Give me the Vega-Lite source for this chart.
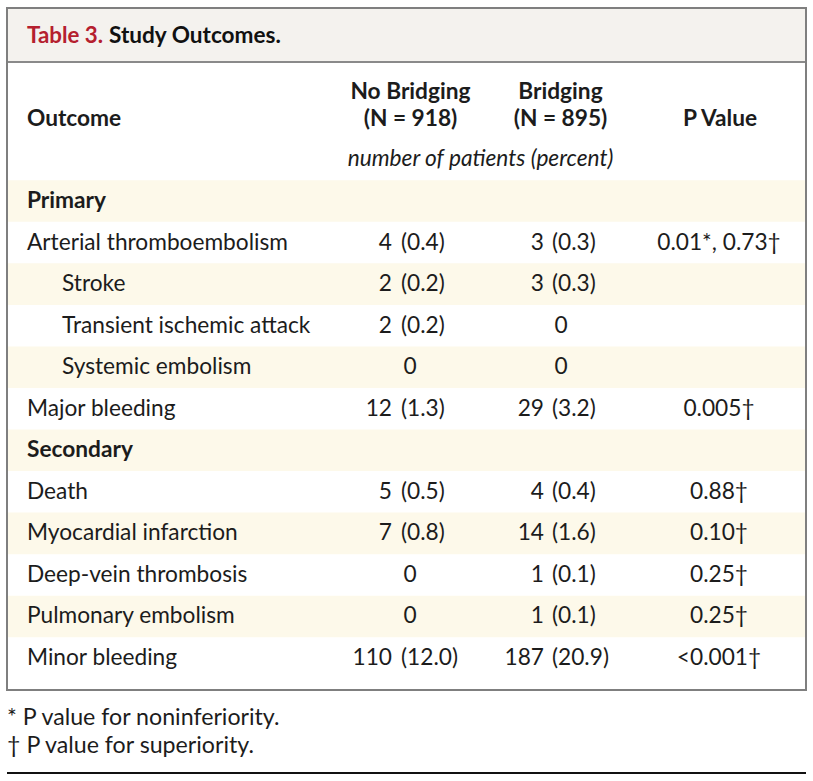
{
  "$schema": "https://vega.github.io/schema/vega-lite/v6.json",
  "width": 813,
  "height": 781,
  "autosize": {"type": "none"},
  "padding": 0,
  "background": "white",
  "config": {
    "view": {"stroke": null},
    "font": "Lato",
    "text": {"font": "Lato", "fontSize": 22.7, "color": "#1c1c1c", "baseline": "middle"}
  },
  "datasets": {
    "rows": [
      {"row": 0, "outcome": "Primary", "level": "section", "nb_n": "", "nb_pct": "", "b_n": "", "b_pct": "", "p": ""},
      {"row": 1, "outcome": "Arterial thromboembolism", "level": "item", "nb_n": "4", "nb_pct": "(0.4)", "b_n": "3", "b_pct": "(0.3)", "p": "0.01*, 0.73†"},
      {"row": 2, "outcome": "Stroke", "level": "sub", "nb_n": "2", "nb_pct": "(0.2)", "b_n": "3", "b_pct": "(0.3)", "p": ""},
      {"row": 3, "outcome": "Transient ischemic attack", "level": "sub", "nb_n": "2", "nb_pct": "(0.2)", "b_n": "0", "b_pct": "", "p": ""},
      {"row": 4, "outcome": "Systemic embolism", "level": "sub", "nb_n": "0", "nb_pct": "", "b_n": "0", "b_pct": "", "p": ""},
      {"row": 5, "outcome": "Major bleeding", "level": "item", "nb_n": "12", "nb_pct": "(1.3)", "b_n": "29", "b_pct": "(3.2)", "p": "0.005†"},
      {"row": 6, "outcome": "Secondary", "level": "section", "nb_n": "", "nb_pct": "", "b_n": "", "b_pct": "", "p": ""},
      {"row": 7, "outcome": "Death", "level": "item", "nb_n": "5", "nb_pct": "(0.5)", "b_n": "4", "b_pct": "(0.4)", "p": "0.88†"},
      {"row": 8, "outcome": "Myocardial infarction", "level": "item", "nb_n": "7", "nb_pct": "(0.8)", "b_n": "14", "b_pct": "(1.6)", "p": "0.10†"},
      {"row": 9, "outcome": "Deep-vein thrombosis", "level": "item", "nb_n": "0", "nb_pct": "", "b_n": "1", "b_pct": "(0.1)", "p": "0.25†"},
      {"row": 10, "outcome": "Pulmonary embolism", "level": "item", "nb_n": "0", "nb_pct": "", "b_n": "1", "b_pct": "(0.1)", "p": "0.25†"},
      {"row": 11, "outcome": "Minor bleeding", "level": "item", "nb_n": "110", "nb_pct": "(12.0)", "b_n": "187", "b_pct": "(20.9)", "p": "<0.001†"}
    ],
    "one": [{"k": 1}]
  },
  "layer": [
    {
      "data": {"name": "one"},
      "mark": {"type": "rect", "fill": "#f4f2ee"},
      "encoding": {
        "x": {"datum": 0, "type": "quantitative", "scale": {"domain": [0, 1], "range": [7, 806], "nice": false, "zero": false}, "axis": null},
        "x2": {"datum": 1},
        "y": {"datum": -4.646, "type": "quantitative", "scale": {"domain": [0, 11], "range": [201, 658], "nice": false, "zero": false}, "axis": null},
        "y2": {"datum": -3.346}
      }
    },
    {
      "data": {"name": "rows"},
      "transform": [{"filter": "datum.row % 2 == 0"}],
      "mark": {"type": "rule", "stroke": "#fdf9ea", "strokeWidth": 41.6, "strokeCap": "butt"},
      "encoding": {
        "x": {"datum": 0, "type": "quantitative", "scale": {"domain": [0, 1], "range": [7, 806], "nice": false, "zero": false}, "axis": null},
        "x2": {"datum": 1},
        "y": {"field": "row", "type": "quantitative", "scale": {"domain": [0, 11], "range": [201, 658], "nice": false, "zero": false}, "axis": null}
      }
    },
    {
      "data": {"name": "one"},
      "mark": {"type": "rule", "stroke": "#8a8a8a", "strokeWidth": 2},
      "encoding": {
        "x": {"datum": 0, "type": "quantitative", "scale": {"domain": [0, 1], "range": [7, 806], "nice": false, "zero": false}, "axis": null},
        "x2": {"datum": 1},
        "y": {"datum": -3.346, "type": "quantitative", "scale": {"domain": [0, 11], "range": [201, 658], "nice": false, "zero": false}, "axis": null}
      }
    },
    {
      "data": {"name": "one"},
      "mark": {"type": "rect", "fill": "transparent", "stroke": "#7f7f7f", "strokeWidth": 2},
      "encoding": {
        "x": {"datum": 0, "type": "quantitative", "scale": {"domain": [0, 1], "range": [7, 806], "nice": false, "zero": false}, "axis": null},
        "x2": {"datum": 1},
        "y": {"datum": -4.646, "type": "quantitative", "scale": {"domain": [0, 11], "range": [201, 658], "nice": false, "zero": false}, "axis": null},
        "y2": {"datum": 11.77}
      }
    },
    {
      "data": {"name": "one"},
      "mark": {"type": "text", "align": "left", "fontWeight": "bold", "color": "#b5202e", "fontSize": 22.3},
      "encoding": {
        "x": {"datum": 0.02503, "type": "quantitative", "scale": {"domain": [0, 1], "range": [7, 806], "nice": false, "zero": false}, "axis": null},
        "y": {"datum": -3.964, "type": "quantitative", "scale": {"domain": [0, 11], "range": [201, 658], "nice": false, "zero": false}, "axis": null},
        "text": {"value": "Table 3."}
      }
    },
    {
      "data": {"name": "one"},
      "mark": {"type": "text", "align": "left", "fontWeight": "bold", "color": "#111111", "fontSize": 22.6},
      "encoding": {
        "x": {"datum": 0.12766, "type": "quantitative", "scale": {"domain": [0, 1], "range": [7, 806], "nice": false, "zero": false}, "axis": null},
        "y": {"datum": -3.964, "type": "quantitative", "scale": {"domain": [0, 11], "range": [201, 658], "nice": false, "zero": false}, "axis": null},
        "text": {"value": "Study Outcomes."}
      }
    },
    {
      "data": {"name": "one"},
      "mark": {"type": "text", "align": "left", "fontWeight": "bold"},
      "encoding": {
        "x": {"datum": 0.02503, "type": "quantitative", "scale": {"domain": [0, 1], "range": [7, 806], "nice": false, "zero": false}, "axis": null},
        "y": {"datum": -1.974, "type": "quantitative", "scale": {"domain": [0, 11], "range": [201, 658], "nice": false, "zero": false}, "axis": null},
        "text": {"value": "Outcome"}
      }
    },
    {
      "data": {"name": "one"},
      "mark": {"type": "text", "align": "center", "fontWeight": "bold"},
      "encoding": {
        "x": {"datum": 0.505, "type": "quantitative", "scale": {"domain": [0, 1], "range": [7, 806], "nice": false, "zero": false}, "axis": null},
        "y": {"datum": -2.633, "type": "quantitative", "scale": {"domain": [0, 11], "range": [201, 658], "nice": false, "zero": false}, "axis": null},
        "text": {"value": "No Bridging"}
      }
    },
    {
      "data": {"name": "one"},
      "mark": {"type": "text", "align": "center", "fontWeight": "bold"},
      "encoding": {
        "x": {"datum": 0.505, "type": "quantitative", "scale": {"domain": [0, 1], "range": [7, 806], "nice": false, "zero": false}, "axis": null},
        "y": {"datum": -1.974, "type": "quantitative", "scale": {"domain": [0, 11], "range": [201, 658], "nice": false, "zero": false}, "axis": null},
        "text": {"value": "(N = 918)"}
      }
    },
    {
      "data": {"name": "one"},
      "mark": {"type": "text", "align": "center", "fontWeight": "bold"},
      "encoding": {
        "x": {"datum": 0.6927, "type": "quantitative", "scale": {"domain": [0, 1], "range": [7, 806], "nice": false, "zero": false}, "axis": null},
        "y": {"datum": -2.633, "type": "quantitative", "scale": {"domain": [0, 11], "range": [201, 658], "nice": false, "zero": false}, "axis": null},
        "text": {"value": "Bridging"}
      }
    },
    {
      "data": {"name": "one"},
      "mark": {"type": "text", "align": "center", "fontWeight": "bold"},
      "encoding": {
        "x": {"datum": 0.6927, "type": "quantitative", "scale": {"domain": [0, 1], "range": [7, 806], "nice": false, "zero": false}, "axis": null},
        "y": {"datum": -1.974, "type": "quantitative", "scale": {"domain": [0, 11], "range": [201, 658], "nice": false, "zero": false}, "axis": null},
        "text": {"value": "(N = 895)"}
      }
    },
    {
      "data": {"name": "one"},
      "mark": {"type": "text", "align": "center", "fontWeight": "bold"},
      "encoding": {
        "x": {"datum": 0.8924, "type": "quantitative", "scale": {"domain": [0, 1], "range": [7, 806], "nice": false, "zero": false}, "axis": null},
        "y": {"datum": -1.974, "type": "quantitative", "scale": {"domain": [0, 11], "range": [201, 658], "nice": false, "zero": false}, "axis": null},
        "text": {"value": "P Value"}
      }
    },
    {
      "data": {"name": "one"},
      "mark": {"type": "text", "align": "center", "fontStyle": "italic"},
      "encoding": {
        "x": {"datum": 0.5926, "type": "quantitative", "scale": {"domain": [0, 1], "range": [7, 806], "nice": false, "zero": false}, "axis": null},
        "y": {"datum": -1.01, "type": "quantitative", "scale": {"domain": [0, 11], "range": [201, 658], "nice": false, "zero": false}, "axis": null},
        "text": {"value": "number of patients (percent)"}
      }
    },
    {
      "data": {"name": "rows"},
      "transform": [{"filter": "datum.level == 'section'"}],
      "mark": {"type": "text", "align": "left", "fontWeight": "bold"},
      "encoding": {
        "x": {"datum": 0.02503, "type": "quantitative", "scale": {"domain": [0, 1], "range": [7, 806], "nice": false, "zero": false}, "axis": null},
        "y": {"field": "row", "type": "quantitative", "scale": {"domain": [0, 11], "range": [201, 658], "nice": false, "zero": false}, "axis": null},
        "text": {"field": "outcome"}
      }
    },
    {
      "data": {"name": "rows"},
      "transform": [{"filter": "datum.level == 'item'"}],
      "mark": {"type": "text", "align": "left"},
      "encoding": {
        "x": {"datum": 0.02503, "type": "quantitative", "scale": {"domain": [0, 1], "range": [7, 806], "nice": false, "zero": false}, "axis": null},
        "y": {"field": "row", "type": "quantitative", "scale": {"domain": [0, 11], "range": [201, 658], "nice": false, "zero": false}, "axis": null},
        "text": {"field": "outcome"}
      }
    },
    {
      "data": {"name": "rows"},
      "transform": [{"filter": "datum.level == 'sub'"}],
      "mark": {"type": "text", "align": "left"},
      "encoding": {
        "x": {"datum": 0.06884, "type": "quantitative", "scale": {"domain": [0, 1], "range": [7, 806], "nice": false, "zero": false}, "axis": null},
        "y": {"field": "row", "type": "quantitative", "scale": {"domain": [0, 11], "range": [201, 658], "nice": false, "zero": false}, "axis": null},
        "text": {"field": "outcome"}
      }
    },
    {
      "data": {"name": "rows"},
      "transform": [{"filter": "datum.nb_pct != ''"}],
      "mark": {"type": "text", "align": "right"},
      "encoding": {
        "x": {"datum": 0.48185, "type": "quantitative", "scale": {"domain": [0, 1], "range": [7, 806], "nice": false, "zero": false}, "axis": null},
        "y": {"field": "row", "type": "quantitative", "scale": {"domain": [0, 11], "range": [201, 658], "nice": false, "zero": false}, "axis": null},
        "text": {"field": "nb_n"}
      }
    },
    {
      "data": {"name": "rows"},
      "transform": [{"filter": "datum.nb_pct != ''"}],
      "mark": {"type": "text", "align": "left"},
      "encoding": {
        "x": {"datum": 0.49312, "type": "quantitative", "scale": {"domain": [0, 1], "range": [7, 806], "nice": false, "zero": false}, "axis": null},
        "y": {"field": "row", "type": "quantitative", "scale": {"domain": [0, 11], "range": [201, 658], "nice": false, "zero": false}, "axis": null},
        "text": {"field": "nb_pct"}
      }
    },
    {
      "data": {"name": "rows"},
      "transform": [{"filter": "datum.nb_n != '' && datum.nb_pct == ''"}],
      "mark": {"type": "text", "align": "center"},
      "encoding": {
        "x": {"datum": 0.50438, "type": "quantitative", "scale": {"domain": [0, 1], "range": [7, 806], "nice": false, "zero": false}, "axis": null},
        "y": {"field": "row", "type": "quantitative", "scale": {"domain": [0, 11], "range": [201, 658], "nice": false, "zero": false}, "axis": null},
        "text": {"field": "nb_n"}
      }
    },
    {
      "data": {"name": "rows"},
      "transform": [{"filter": "datum.b_pct != ''"}],
      "mark": {"type": "text", "align": "right"},
      "encoding": {
        "x": {"datum": 0.67209, "type": "quantitative", "scale": {"domain": [0, 1], "range": [7, 806], "nice": false, "zero": false}, "axis": null},
        "y": {"field": "row", "type": "quantitative", "scale": {"domain": [0, 11], "range": [201, 658], "nice": false, "zero": false}, "axis": null},
        "text": {"field": "b_n"}
      }
    },
    {
      "data": {"name": "rows"},
      "transform": [{"filter": "datum.b_pct != ''"}],
      "mark": {"type": "text", "align": "left"},
      "encoding": {
        "x": {"datum": 0.6821, "type": "quantitative", "scale": {"domain": [0, 1], "range": [7, 806], "nice": false, "zero": false}, "axis": null},
        "y": {"field": "row", "type": "quantitative", "scale": {"domain": [0, 11], "range": [201, 658], "nice": false, "zero": false}, "axis": null},
        "text": {"field": "b_pct"}
      }
    },
    {
      "data": {"name": "rows"},
      "transform": [{"filter": "datum.b_n != '' && datum.b_pct == ''"}],
      "mark": {"type": "text", "align": "center"},
      "encoding": {
        "x": {"datum": 0.6934, "type": "quantitative", "scale": {"domain": [0, 1], "range": [7, 806], "nice": false, "zero": false}, "axis": null},
        "y": {"field": "row", "type": "quantitative", "scale": {"domain": [0, 11], "range": [201, 658], "nice": false, "zero": false}, "axis": null},
        "text": {"field": "b_n"}
      }
    },
    {
      "data": {"name": "rows"},
      "transform": [{"filter": "datum.p != ''"}],
      "mark": {"type": "text", "align": "center"},
      "encoding": {
        "x": {"datum": 0.89111, "type": "quantitative", "scale": {"domain": [0, 1], "range": [7, 806], "nice": false, "zero": false}, "axis": null},
        "y": {"field": "row", "type": "quantitative", "scale": {"domain": [0, 11], "range": [201, 658], "nice": false, "zero": false}, "axis": null},
        "text": {"field": "p"}
      }
    },
    {
      "data": {"name": "one"},
      "mark": {"type": "text", "align": "left", "fontSize": 23.2},
      "encoding": {
        "x": {"datum": 0, "type": "quantitative", "scale": {"domain": [0, 1], "range": [7, 806], "nice": false, "zero": false}, "axis": null},
        "y": {"datum": 12.45, "type": "quantitative", "scale": {"domain": [0, 11], "range": [201, 658], "nice": false, "zero": false}, "axis": null},
        "text": {"value": "* P value for noninferiority."}
      }
    },
    {
      "data": {"name": "one"},
      "mark": {"type": "text", "align": "left", "fontSize": 23.2},
      "encoding": {
        "x": {"datum": 0, "type": "quantitative", "scale": {"domain": [0, 1], "range": [7, 806], "nice": false, "zero": false}, "axis": null},
        "y": {"datum": 13.11, "type": "quantitative", "scale": {"domain": [0, 11], "range": [201, 658], "nice": false, "zero": false}, "axis": null},
        "text": {"value": "† P value for superiority."}
      }
    },
    {
      "data": {"name": "one"},
      "mark": {"type": "rule", "stroke": "#111111", "strokeWidth": 2},
      "encoding": {
        "x": {"datum": 0, "type": "quantitative", "scale": {"domain": [0, 1], "range": [7, 806], "nice": false, "zero": false}, "axis": null},
        "x2": {"datum": 1},
        "y": {"datum": 13.77, "type": "quantitative", "scale": {"domain": [0, 11], "range": [201, 658], "nice": false, "zero": false}, "axis": null}
      }
    }
  ]
}
